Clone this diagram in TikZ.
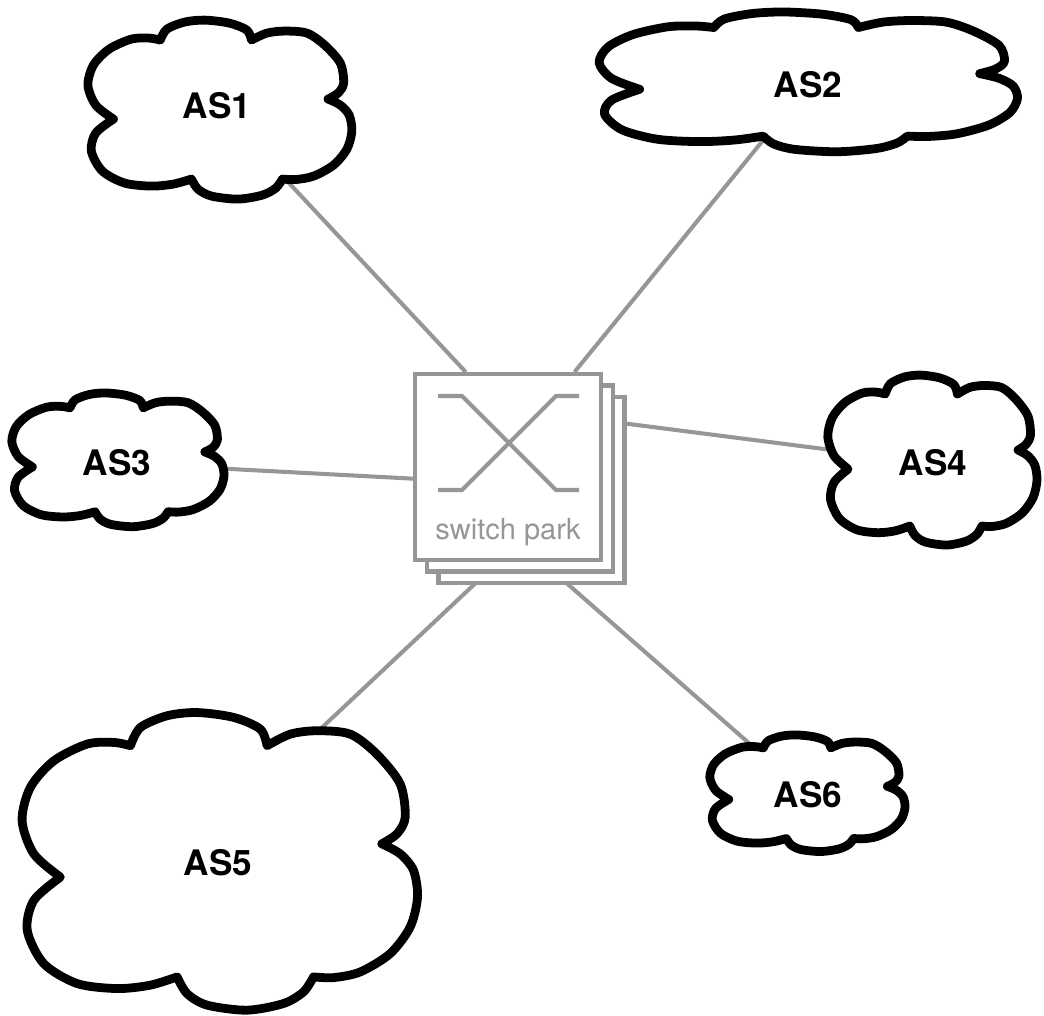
\documentclass[tikz,border=0pt]{standalone}
\usepackage{fontspec}
\setmainfont{TeX Gyre Heros}
\usetikzlibrary{shadows,backgrounds}
\definecolor{swgray}{RGB}{150,150,150}
\tikzset{
	cloudline/.style={draw=black, line width=5pt, fill=white, line join=round},
	aslabel/.style={font=\fontsize{20}{24}\selectfont\bfseries, inner sep=1pt},
	link/.style={draw=swgray, line width=2.3pt},
	swpark/.style={draw=swgray, line width=2.3pt, fill=white, minimum size=3.72cm, inner sep=0pt,
		double copy shadow={shadow xshift=0.235cm, shadow yshift=-0.23cm, draw=swgray, fill=white, line width=2.3pt}}
}
% cloud outline: centre, half width, half height
\newcommand{\ascloud}[3]{
	\begin{scope}[shift={#1}, xscale=#2, yscale=#3]
		\draw[cloudline] plot[smooth] coordinates {(-0.451,0.769) (-0.401,0.892) (-0.267,0.971) (-0.116,0.993) (0.069,0.960) (0.203,0.881) (0.237,0.769)}
			-- plot[smooth] coordinates {(0.237,0.769) (0.354,0.847) (0.488,0.870) (0.656,0.847) (0.790,0.712) (0.908,0.510) (0.933,0.285) (0.891,0.173) (0.815,0.106)}
			-- plot[smooth] coordinates {(0.815,0.106) (0.908,0.038) (0.975,-0.074) (0.995,-0.254) (0.958,-0.456) (0.857,-0.636) (0.706,-0.760) (0.572,-0.798) (0.471,-0.793)}
			-- plot[smooth] coordinates {(0.471,-0.793) (0.421,-0.894) (0.320,-0.973) (0.136,-1.018) (-0.065,-0.984) (-0.166,-0.906) (-0.216,-0.793)}
			-- plot[smooth] coordinates {(-0.216,-0.793) (-0.351,-0.849) (-0.518,-0.872) (-0.720,-0.838) (-0.888,-0.703) (-0.971,-0.479) (-0.938,-0.276) (-0.804,-0.119)}
			-- plot[smooth] coordinates {(-0.804,-0.119) (-0.938,0.038) (-0.997,0.263) (-0.955,0.488) (-0.837,0.667) (-0.669,0.780) (-0.535,0.791) (-0.451,0.769)}
			-- cycle;
	\end{scope}
}
\begin{document}
\begin{tikzpicture}
	\useasboundingbox (0,0) rectangle (20.88,-20.3);
	% clouds
	\ascloud{(4.40,-2.17)}{2.65}{1.78}
	\ascloud{(16.17,-1.62)}{4.2}{1.39}
	\ascloud{(2.36,-9.18)}{2.13}{1.33}
	\ascloud{(18.65,-9.18)}{2.1}{1.69}
	\ascloud{(4.40,-17.19)}{3.97}{2.96}
	\ascloud{(16.15,-15.85)}{1.96}{1.16}
	\node[aslabel] (as1) at (4.34,-2.12) {AS1};
	\node[aslabel] (as2) at (16.16,-1.70) {AS2};
	\node[aslabel] (as3) at (2.34,-9.26) {AS3};
	\node[aslabel] (as4) at (18.66,-9.26) {AS4};
	\node[aslabel] (as5) at (4.36,-17.26) {AS5};
	\node[aslabel] (as6) at (16.16,-15.90) {AS6};
	% switch park
	\node[swpark] (sw) at (10.16,-9.34) {};
	\node[text=swgray, font=\fontsize{16.5}{18}\selectfont] (swlabel) at ([yshift=-1.3cm]sw.center) {switch park};
	\begin{scope}[shift={(sw.center)}, draw=swgray, line width=2.3pt]
		\draw (-1.4,1.42) -- (-0.92,1.42) -- (0.96,-0.46) -- (1.42,-0.46);
		\draw (-1.4,-0.46) -- (-0.92,-0.46) -- (0.96,1.42) -- (1.42,1.42);
	\end{scope}
	% links
	\begin{scope}[on background layer]
		\draw[link] (as1) -- (sw.114);
		\draw[link] (as2) -- (sw.55);
		\draw[link] (as3) -- (sw.187);
		\draw[link] (as4) -- (sw.26);
		\draw[link] ([shift={(1.4,2.07)}]as5.center) -- (sw.264);
		\draw[link] (as6) -- (sw.-70);
	\end{scope}
\end{tikzpicture}
\end{document}
